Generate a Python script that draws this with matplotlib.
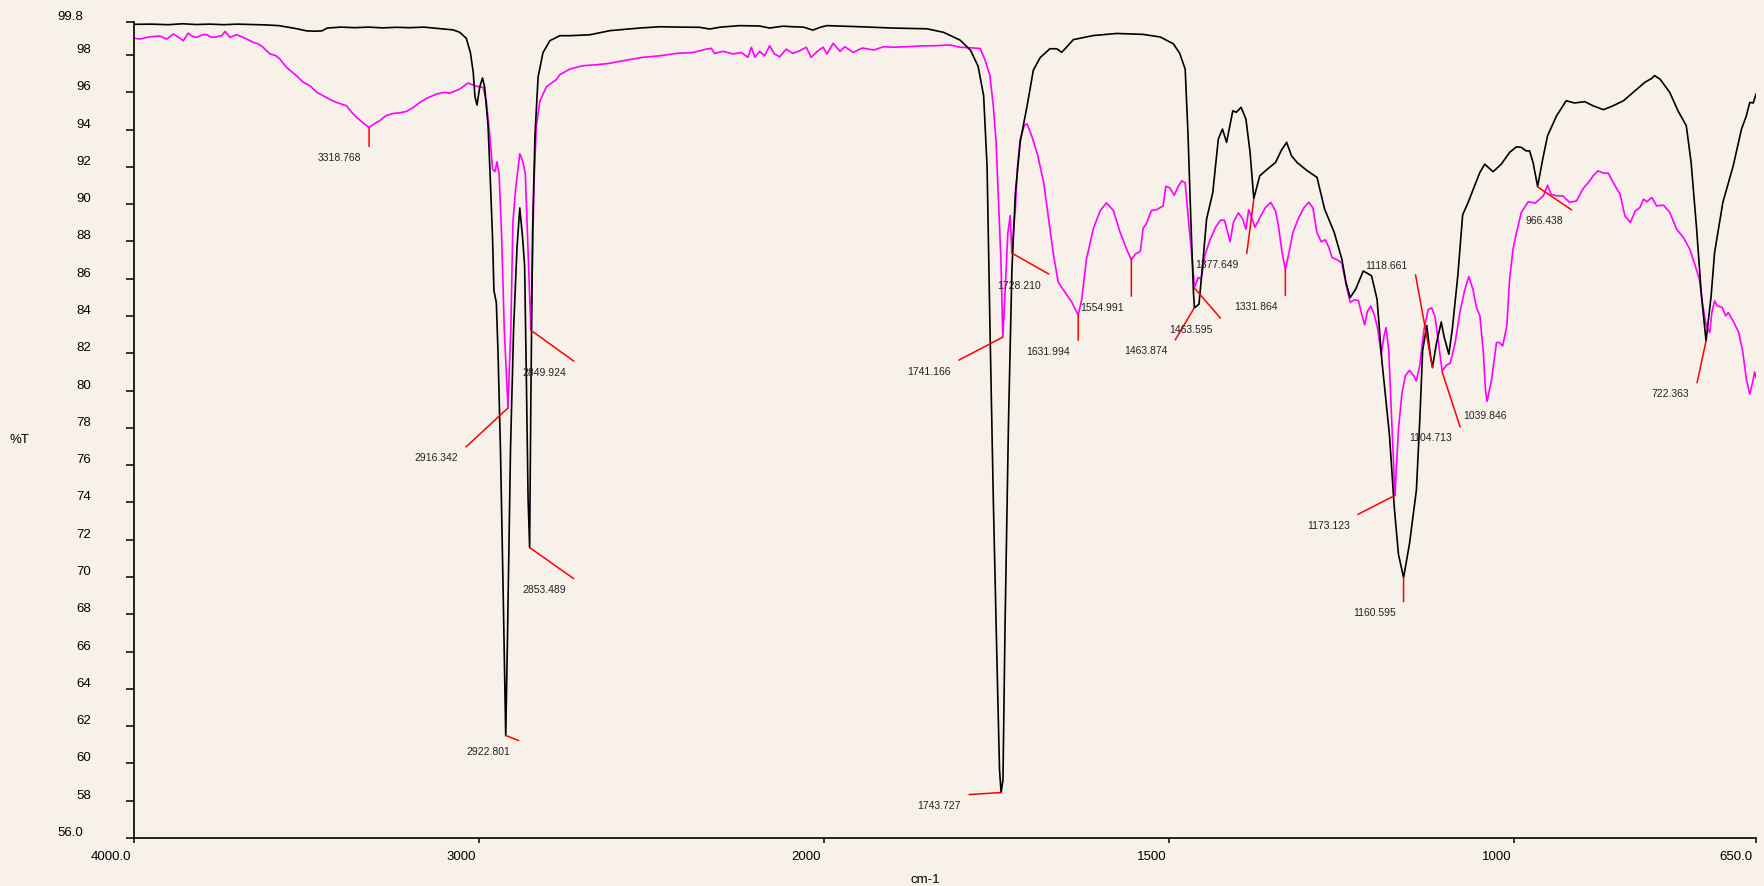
import numpy as np
import matplotlib
matplotlib.use('Agg')
import matplotlib.pyplot as plt
from matplotlib.transforms import ScaledTranslation

# ---- spectrum 1 (black), wavenumber [cm-1] and %T
black_wn = [4000, 3950, 3900, 3860, 3820, 3780, 3740, 3700, 3660, 3620, 3580, 3555, 3530, 3500,
            3475, 3455, 3440, 3400, 3360, 3320, 3280, 3240, 3200, 3160, 3114, 3075, 3056, 3037,
            3025, 3017, 3012, 3006, 2998, 2990, 2984, 2974, 2967, 2961, 2957, 2950, 2945, 2938,
            2930, 2922.8, 2918, 2909, 2900, 2890, 2882, 2874, 2868, 2863, 2858, 2853.5, 2850,
            2845, 2838, 2829, 2815, 2795, 2766, 2737, 2679, 2621, 2535, 2477, 2420, 2361, 2332,
            2300, 2245, 2187, 2158, 2120, 2091, 2060, 2033, 2010, 1996, 1948, 1900, 1851, 1827,
            1803, 1788, 1777, 1769, 1764, 1760, 1755, 1750, 1746, 1743.7, 1741, 1738, 1733, 1728,
            1723, 1716, 1706, 1697, 1687, 1673, 1663, 1656, 1649, 1639, 1610, 1576, 1538, 1513,
            1494, 1485, 1477, 1473, 1469, 1465, 1463.6, 1457, 1451, 1446, 1437, 1429, 1423, 1417,
            1408, 1403, 1396, 1389, 1383, 1377.6, 1369, 1358, 1346, 1338, 1330, 1323, 1315, 1300,
            1286, 1275, 1261, 1250, 1244, 1238, 1230, 1219, 1207, 1199, 1192, 1181, 1174, 1168,
            1160.6, 1152, 1142, 1137, 1133, 1127, 1122, 1118.7, 1113, 1106, 1102, 1095, 1090, 1082,
            1075, 1067, 1060, 1050, 1043, 1031, 1019, 1007, 997, 990, 983, 978, 973, 966.4, 959,
            952, 939, 925, 913, 898, 886, 871, 857, 842, 828, 811, 801, 797, 789, 775, 763, 751,
            744, 736, 729, 722.4, 715, 710, 698, 683, 671, 664, 659, 654, 650]
black_t = [99.65, 99.66, 99.63, 99.68, 99.64, 99.66, 99.63, 99.66, 99.64, 99.62, 99.58, 99.5, 99.42,
           99.3, 99.28, 99.3, 99.45, 99.5, 99.47, 99.5, 99.46, 99.49, 99.47, 99.5, 99.42, 99.35,
           99.22, 98.9, 98.12, 97.08, 95.78, 95.32, 96.3, 96.77, 96.3, 94.22, 91.1, 88.2, 85.37,
           84.72, 81.99, 76.78, 68.98, 61.5, 66.39, 76.78, 83.3, 87.71, 89.8, 88.23, 86.68, 80.69,
           74.19, 71.58, 79.4, 88.5, 93.7, 96.82, 98.12, 98.77, 99.04, 99.04, 99.09, 99.31, 99.45,
           99.52, 99.5, 99.49, 99.4, 99.5, 99.58, 99.56, 99.45, 99.55, 99.52, 99.5, 99.34, 99.5,
           99.58, 99.52, 99.45, 99.41, 99.22, 98.8, 98.26, 97.4, 95.82, 92.0, 83.78, 74.19, 65.97,
           59.68, 58.44, 59.12, 67.34, 78.29, 86.51, 90.62, 93.35, 95.28, 97.19, 97.87, 98.34,
           98.34, 98.15, 98.42, 98.83, 99.05, 99.16, 99.11, 98.97, 98.6, 98.1, 97.25, 93.85, 89.38,
           85.26, 84.44, 84.64, 87.05, 89.2, 90.63, 93.49, 94.03, 93.32, 95.01, 94.93, 95.2, 94.57,
           92.78, 90.3, 91.52, 91.88, 92.24, 92.87, 93.32, 92.6, 92.24, 91.79, 91.44, 89.74, 88.48,
           87.05, 85.8, 84.99, 85.44, 86.42, 86.16, 84.9, 81.6, 77.6, 73.71, 71.22, 69.97, 71.79,
           74.67, 78.5, 82.15, 83.49, 81.95, 81.25, 82.53, 83.68, 82.91, 81.95, 83.3, 86.17, 89.43,
           90.1, 90.77, 91.71, 92.15, 91.74, 92.15, 92.78, 93.08, 93.05, 92.86, 92.86, 92.24,
           90.95, 92.42, 93.67, 94.74, 95.55, 95.43, 95.5, 95.28, 95.07, 95.28, 95.55, 96.0, 96.54,
           96.75, 96.9, 96.71, 96.0, 95.01, 94.21, 92.24, 88.66, 85.08, 82.67, 85.08, 87.41, 90.1,
           92.06, 94.03, 94.74, 95.46, 95.43, 95.91]

# ---- spectrum 2 (magenta)
pink_wn = [4000, 3983, 3954, 3925, 3905, 3886, 3870, 3857, 3843, 3830, 3818, 3800, 3789, 3775, 3760,
           3745, 3736, 3722, 3703, 3690, 3679, 3654, 3640, 3626, 3606, 3590, 3577, 3558, 3529,
           3510, 3490, 3470, 3452, 3430, 3413, 3384, 3370, 3355, 3335, 3318.8, 3305, 3288, 3270,
           3249, 3230, 3210, 3190, 3172, 3150, 3123, 3100, 3085, 3056, 3032, 3008, 2988, 2979,
           2969, 2961, 2954, 2948, 2942, 2935, 2927, 2916.3, 2908, 2902, 2894, 2882, 2873, 2866,
           2860, 2849.9, 2845, 2841, 2834, 2824, 2805, 2776, 2766, 2737, 2699, 2660, 2621, 2573,
           2525, 2477, 2428, 2380, 2361, 2342, 2327, 2318, 2293, 2264, 2240, 2221, 2211, 2201,
           2187, 2173, 2158, 2144, 2129, 2110, 2091, 2071, 2052, 2038, 2018, 2003, 1996, 1987,
           1977, 1970, 1958, 1945, 1928, 1914, 1900, 1880, 1861, 1842, 1817, 1803, 1783, 1774,
           1767, 1760, 1755, 1751, 1748, 1744, 1741.2, 1737, 1734, 1730.5, 1728.2, 1723, 1720,
           1716, 1710, 1706, 1699, 1691, 1682, 1675, 1668, 1661, 1651, 1641, 1632, 1627, 1620,
           1610, 1600, 1591, 1581, 1572, 1562, 1555, 1549, 1542, 1538, 1533, 1526, 1518, 1509,
           1505, 1499, 1493, 1487, 1482, 1477, 1472, 1467, 1463.6, 1458, 1454, 1448, 1441, 1433,
           1426, 1420, 1416, 1412, 1407, 1400, 1394, 1389, 1385, 1381, 1376, 1368, 1361, 1353,
           1346, 1342, 1337, 1331.9, 1327, 1321, 1313, 1305, 1298, 1292, 1286, 1280, 1274, 1269,
           1264, 1257, 1250, 1244, 1238, 1232, 1226, 1221, 1217, 1213, 1208, 1203, 1198, 1193,
           1189, 1186, 1182, 1179, 1173.1, 1168, 1163, 1158, 1152, 1146, 1142, 1137, 1131, 1125,
           1120, 1115, 1110, 1104.7, 1098, 1093, 1086, 1079, 1072, 1066, 1060, 1055, 1050, 1045,
           1042, 1039.8, 1033, 1026, 1022, 1017, 1011, 1007, 1002, 997, 990, 980, 970, 958, 952,
           947, 939, 930, 920, 910, 901, 891, 886, 879, 871, 864, 857, 847, 840, 832, 825, 818,
           813, 808, 801, 794, 784, 775, 765, 755, 746, 738, 732, 727, 722, 717, 714, 710, 706,
           699, 694, 690, 682, 675, 669, 664, 659, 655, 652, 650]
pink_t = [98.91, 98.86, 98.98, 99.02, 98.86, 99.13, 98.95, 98.77, 99.17, 99.0, 98.95, 99.1, 99.09,
          98.95, 98.98, 99.05, 99.27, 98.95, 99.09, 99.0, 98.91, 98.68, 98.6, 98.42, 98.06, 97.98,
          97.79, 97.34, 96.89, 96.55, 96.35, 96.0, 95.82, 95.6, 95.46, 95.28, 94.95, 94.66, 94.35,
          94.12, 94.3, 94.48, 94.75, 94.87, 94.9, 94.98, 95.2, 95.46, 95.7, 95.91, 96.0, 95.95,
          96.18, 96.5, 96.33, 96.26, 95.52, 93.7, 91.88, 91.75, 92.27, 91.61, 88.5, 83.3, 79.07,
          83.3, 89.02, 90.84, 92.71, 92.27, 91.61, 88.5, 83.24, 87.19, 91.1, 94.22, 95.52, 96.3,
          96.69, 96.95, 97.25, 97.43, 97.48, 97.56, 97.73, 97.88, 97.96, 98.09, 98.14, 98.23,
          98.32, 98.36, 98.09, 98.2, 98.06, 98.14, 97.88, 98.42, 97.88, 98.2, 97.96, 98.5, 98.06,
          97.91, 98.32, 98.09, 98.23, 98.42, 97.88, 98.23, 98.42, 98.06, 98.63, 98.2, 98.45,
          98.14, 98.38, 98.27, 98.45, 98.42, 98.45, 98.49, 98.5, 98.54, 98.42, 98.38, 98.35,
          97.74, 96.92, 95.28, 93.35, 90.62, 87.06, 82.87, 85.96, 88.43, 89.39, 87.38, 89.79,
          91.98, 93.49, 94.23, 94.31, 93.63, 92.67, 91.16, 89.25, 87.33, 85.82, 85.28, 84.73,
          84.05, 84.87, 87.06, 88.7, 89.66, 90.07, 89.66, 88.57, 87.6, 87.02, 87.33, 87.47, 88.7,
          88.97, 89.66, 89.71, 89.91, 90.96, 90.87, 90.48, 90.96, 91.25, 91.15, 89.04, 87.13,
          85.55, 86.07, 85.98, 87.32, 88.09, 88.76, 89.14, 89.14, 88.57, 87.99, 89.04, 89.53,
          89.24, 88.66, 89.71, 89.33, 88.76, 89.33, 89.81, 90.1, 89.62, 88.86, 87.51, 86.49,
          87.32, 88.47, 89.24, 89.81, 90.1, 89.81, 88.47, 87.99, 88.09, 87.7, 87.13, 87.03, 86.84,
          85.69, 84.73, 84.87, 84.83, 84.06, 83.53, 84.25, 84.54, 84.06, 83.3, 81.95, 82.91,
          83.39, 82.15, 79.46, 74.38, 77.93, 79.84, 80.8, 81.09, 80.8, 80.51, 81.38, 83.3, 84.35,
          84.44, 83.97, 82.53, 81.05, 81.38, 81.47, 82.53, 84.2, 85.4, 86.12, 85.42, 84.46, 84.01,
          82.04, 80.07, 79.42, 80.61, 82.58, 82.58, 82.4, 83.47, 85.98, 87.59, 88.48, 89.56,
          90.13, 90.06, 90.45, 91.02, 90.54, 90.45, 90.45, 90.1, 90.18, 90.81, 91.25, 91.52,
          91.79, 91.67, 91.67, 91.17, 90.54, 89.38, 89.02, 89.64, 89.83, 90.27, 90.13, 90.36,
          89.91, 89.95, 89.56, 88.66, 88.21, 87.59, 86.69, 85.98, 84.55, 83.47, 83.12, 84.19,
          84.81, 84.55, 84.46, 84.01, 84.19, 83.65, 83.12, 82.04, 80.61, 79.81, 80.43, 81.0, 80.7]

# ---- picked peaks (label, %T at the peak)
peak_names = ['3318.768', '2916.342', '2922.801', '2849.924', '2853.489', '1743.727', '1741.166',
              '1728.210', '1631.994', '1554.991', '1463.874', '1463.595', '1377.649', '1331.864',
              '1173.123', '1160.595', '1118.661', '1104.713', '1039.846', '966.438', '722.363']
peak_t = [94.12, 79.07, 61.5, 83.24, 71.58, 58.44, 82.87, 87.38, 84.05, 87.05, 84.44, 85.5,
          90.25, 86.49, 74.38, 69.97, 81.22, 81.0, 79.41, 90.93, 82.67]

# axis ticks
xtick_vals = [4000, 3000, 2000, 1500, 1000, 650]
xtick_labels = ['4000.0', '3000', '2000', '1500', '1000', '650.0']
ytick_vals = [56] + list(range(58, 99, 2)) + [99.8]
ytick_labels = ['56.0'] + [str(v) for v in range(58, 99, 2)] + ['99.8']

# layout of the red leader lines: end point relative to the peak (px right, px down)
leader = [(0, 19), (-42, 39), (13, 5), (43, 31), (44, 31), (-32, 2), (-44, 23), (37, 21),
          (0, 25), (0, 37), (-19, 32), (26, 30), (-7, 54), (0, 26), (-37, 19), (0, 24),
          (-17, -93), (18, 55), (0, 0), (34, 23), (-9, 42)]

bg = '#F7F1EA'
plt.rcParams['font.family'] = ['Liberation Sans', 'DejaVu Sans']


# x axis: 2000-650 is drawn at twice the scale of 4000-2000
def fwd(x):
    x = np.asarray(x, dtype=float)
    return np.where(x >= 2000, x, 2 * x - 2000)


def inv(y):
    y = np.asarray(y, dtype=float)
    return np.where(y >= 2000, y, (y + 2000) / 2)


fig = plt.figure(figsize=(17.65, 8.87), dpi=100, facecolor=bg)
ax = fig.add_axes([0.0759, 0.0541, 0.919, 0.9205])
ax.set_facecolor(bg)
ax.set_xscale('function', functions=(fwd, inv))

# spectra
ax.plot(pink_wn, pink_t, color='#FF00FF', linewidth=1.2)
ax.plot(black_wn, black_t, color='black', linewidth=1.2)

# peak picks
for name, t, (dx, dy) in zip(peak_names, peak_t, leader):
    wn = float(name)
    if dx != 0 or dy != 0:
        ax.annotate('', xy=(wn, t), xytext=(dx, -dy), textcoords='offset pixels',
                    arrowprops=dict(arrowstyle='-', color='red', lw=1.1, shrinkA=0, shrinkB=0))
    if dy < 0:
        lx, ly = dx - 8, -dy + 10
    elif dx == 0 and dy == 0:
        lx, ly = 20, -13
    else:
        lx, ly = dx - 8, -dy - 10.5
    ax.annotate(name, xy=(wn, t), xytext=(lx, ly), textcoords='offset pixels',
                ha='right', va='center', fontsize=7.5, color='#222222')

# axes
ax.set_xlim(4000, 650)
ax.set_ylim(56, 99.8)
ax.set_xticks(xtick_vals)
ax.set_xticklabels(xtick_labels)
ax.set_yticks(ytick_vals)
ax.set_yticklabels(ytick_labels)
ax.minorticks_off()
ax.spines['top'].set_visible(False)
ax.spines['right'].set_visible(False)
ax.spines['left'].set_linewidth(1.2)
ax.spines['bottom'].set_linewidth(1.2)
ax.tick_params(axis='x', direction='out', length=3.8, width=1.1, pad=5, labelsize=9.5)
ax.tick_params(axis='y', direction='out', length=6, width=1.1, pad=25, labelsize=9.5)

# tick labels sit a little off their ticks
xoff = ScaledTranslation(-3 / 100, 0, fig.dpi_scale_trans)
for lab in ax.get_xticklabels():
    lab.set_ha('right')
    lab.set_transform(lab.get_transform() + xoff)
for lab in ax.get_yticklabels():
    shift = -7.5 if '.' in lab.get_text() else 0
    lab.set_transform(lab.get_transform() + ScaledTranslation(shift / 100, 7.5 / 100, fig.dpi_scale_trans))

fig.text(19 / 1765, 1 - 440 / 887, '%T', ha='center', va='center', fontsize=9.5)
fig.text(925 / 1765, 1 - 880 / 887, 'cm-1', ha='center', va='center', fontsize=9.5)

plt.savefig('out.png', dpi=100, facecolor=bg)
